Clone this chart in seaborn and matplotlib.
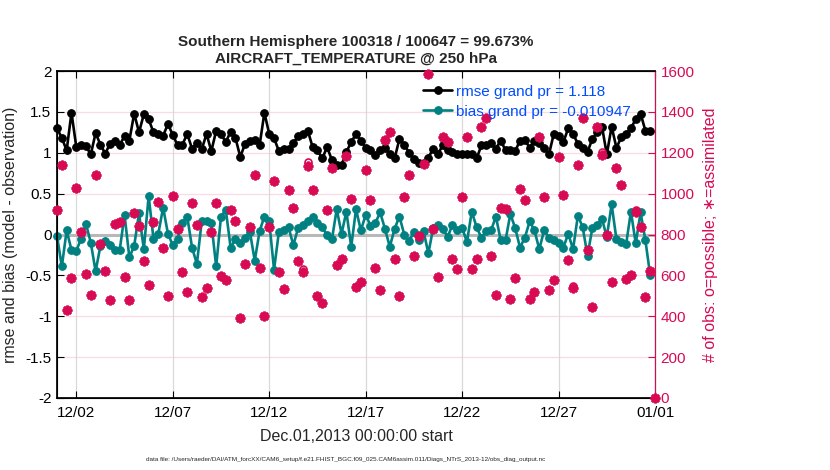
import numpy as np
import pandas as pd
import matplotlib
matplotlib.use("Agg")
import matplotlib.pyplot as plt
import seaborn as sns

sns.set_theme(style="white")
plt.rcParams['font.family'] = ['Liberation Sans', 'DejaVu Sans']

# ---------------- data ----------------
title_text = "Southern Hemisphere 100318 / 100647 = 99.673%\nAIRCRAFT_TEMPERATURE @ 250 hPa"
start_time = "2013-12-01"
end_time = "2014-01-01"

rmse = [1.30, 1.18, 1.03, 1.49, 1.07, 1.09, 1.08, 0.98, 1.24, 1.10,
        0.99, 1.11, 1.15, 1.10, 1.20, 1.15, 1.48, 1.25, 1.47, 1.41,
        1.25, 1.23, 1.21, 1.35, 1.22, 1.09, 1.10, 1.23, 1.05, 1.12,
        1.04, 1.23, 1.02, 1.27, 1.23, 1.13, 1.26, 1.18, 0.95, 1.11,
        1.14, 1.16, 1.09, 1.49, 1.23, 1.18, 1.02, 1.04, 1.04, 1.12,
        1.20, 1.23, 1.27, 1.07, 1.03, 0.93, 1.07, 0.91, 0.85, 0.85,
        1.01, 1.13, 1.23, 1.15, 1.06, 1.03, 0.97, 1.03, 1.06, 0.98,
        0.93, 1.17, 1.10, 1.00, 0.92, 0.87, 0.87, 0.94, 1.05, 0.99,
        1.09, 1.03, 1.01, 0.98, 0.98, 0.98, 0.98, 0.93, 1.09, 1.09,
        1.12, 1.05, 1.15, 1.03, 1.03, 1.02, 1.15, 1.16, 1.06, 1.15,
        1.12, 1.06, 0.98, 1.23, 1.20, 1.13, 1.30, 1.23, 1.11, 1.06,
        1.01, 1.17, 1.25, 1.32, 0.98, 1.32, 1.06, 1.19, 1.23, 1.30,
        1.41, 1.48, 1.27, 1.27]

bias = [-0.02, -0.39, 0.05, -0.19, -0.20, -0.05, 0.13, -0.10, -0.45, -0.14,
        -0.08, -0.13, -0.19, -0.19, 0.24, -0.28, -0.14, 0.26, -0.18, 0.47,
        -0.05, 0.01, 0.33, 0.01, -0.13, -0.05, 0.14, 0.22, -0.16, -0.36,
        0.16, 0.16, 0.14, -0.39, 0.22, 0.30, -0.16, -0.06, -0.11, -0.04,
        0.03, -0.32, 0.04, 0.22, 0.16, -0.43, 0.03, 0.05, 0.09, -0.13,
        0.08, 0.12, 0.16, 0.22, 0.14, 0.09, -0.01, -0.06, 0.31, 0.01,
        0.28, -0.15, 0.31, 0.05, 0.24, 0.11, 0.14, 0.27, 0.07, -0.15,
        0.07, 0.22, 0.00, -0.08, 0.03, -0.07, 0.04, -0.23, 0.08, 0.12,
        0.07, -0.03, 0.12, 0.06, 0.08, -0.09, 0.28, 0.09, -0.04, 0.04,
        0.05, 0.22, -0.07, -0.07, 0.25, 0.08, -0.16, -0.04, 0.16, 0.05,
        -0.18, 0.05, -0.04, -0.07, -0.11, -0.16, 0.01, -0.18, 0.23, 0.09,
        -0.26, 0.08, 0.12, 0.19, -0.03, 0.37, -0.06, -0.09, -0.12, 0.28,
        -0.11, 0.27, -0.07, -0.50]

n_assimilated = [920, 1140, 432, 587, 1026, 812, 605, 503, 1089, 753,
                 621, 479, 851, 860, 590, 479, 905, 842, 668, 553,
                 862, 959, 734, 499, 990, 828, 615, 517, 954, 845,
                 493, 538, 811, 956, 598, 578, 921, 866, 389, 658,
                 835, 1092, 637, 401, 836, 1064, 618, 532, 1018, 928,
                 672, 617, 1133, 1018, 499, 463, 920, 1125, 651, 680,
                 1185, 975, 545, 567, 1116, 969, 636, 527, 1263, 1304,
                 680, 501, 985, 1089, 696, 791, 1144, 1587, 829, 592,
                 1275, 1252, 681, 631, 982, 1276, 633, 682, 1325, 1372,
                 696, 502, 931, 925, 482, 588, 1025, 969, 485, 518,
                 1278, 985, 527, 578, 1179, 995, 674, 536, 1141, 1370,
                 726, 445, 1325, 1188, 798, 567, 1123, 1043, 584, 603,
                 911, 835, 494, 622, 0]

n_possible = [920, 1140, 432, 587, 1026, 812, 605, 503, 1089, 753,
              621, 479, 851, 860, 590, 479, 905, 842, 668, 553,
              862, 959, 734, 499, 990, 828, 615, 517, 954, 845,
              493, 538, 811, 956, 598, 578, 921, 866, 389, 658,
              835, 1092, 637, 401, 836, 1064, 618, 532, 1018, 928,
              672, 630, 1154, 1018, 499, 463, 920, 1125, 651, 680,
              1185, 975, 545, 567, 1116, 969, 636, 527, 1263, 1304,
              680, 501, 985, 1089, 696, 791, 1144, 1587, 829, 592,
              1275, 1252, 681, 631, 982, 1276, 633, 682, 1325, 1372,
              696, 502, 931, 925, 482, 588, 1025, 969, 485, 518,
              1278, 985, 527, 578, 1179, 995, 674, 548, 1141, 1370,
              726, 445, 1325, 1203, 798, 567, 1123, 1043, 584, 603,
              921, 835, 494, 622, 0]

xtick_dates = ["2013-12-02", "2013-12-07", "2013-12-12", "2013-12-17",
               "2013-12-22", "2013-12-27", "2014-01-01"]
xtick_labels = ["12/02", "12/07", "12/12", "12/17", "12/22", "12/27", "01/01"]
ytick_values = [-2, -1.5, -1, -0.5, 0, 0.5, 1, 1.5, 2]
ytick_labels = ["-2", "-1.5", "-1", "-0.5", "0", "0.5", "1", "1.5", "2"]
ytick2_values = [0, 200, 400, 600, 800, 1000, 1200, 1400, 1600]

legend_labels = ["rmse grand pr = 1.118", "bias grand pr = -0.010947"]
xlabel_text = "Dec.01,2013 00:00:00 start"
ylabel_text = "rmse and bias (model - observation)"
ylabel2_text = "# of obs: o=possible; \u2217=assimilated"
footer_text = ("data file: /Users/raeder/DAI/ATM_forcXX/CAM6_setup/"
               "f.e21.FHIST_BGC.f09_025.CAM6assim.011/Diags_NTrS_2013-12/obs_diag_output.nc")

# ---------------- styling ----------------
CRIMSON = (215/255, 10/255, 83/255)
TEAL = (0.0, 0.5, 0.5)
BLUE = (0.0, 0.3, 1.0)

times = pd.date_range(start_time, periods=len(rmse), freq="6h")
count_times = pd.date_range(start_time, periods=len(n_possible), freq="6h")

fig = plt.figure(figsize=(8.3, 4.7), dpi=100)
ax = fig.add_axes([0.0687, 0.1532, 0.7205, 0.6957])

# grids
for yv in ytick_values:
    ax.axhline(yv, color=CRIMSON, alpha=0.15, lw=0.9, zorder=0.5)
for xd in xtick_dates:
    ax.axvline(pd.Timestamp(xd), color="0.85", lw=0.9, zorder=0.5)
ax.axhline(0, color="0.72", lw=2.2, zorder=1.5)

sns.lineplot(x=times, y=rmse, ax=ax, color="black", marker="o", markersize=5.5,
             markeredgecolor="black", linewidth=1.9, clip_on=False, zorder=3)
sns.lineplot(x=times, y=bias, ax=ax, color=TEAL, marker="o", markersize=5.5,
             markeredgecolor=TEAL, linewidth=1.9, clip_on=False, zorder=3)
handles = [ln for ln in ax.get_lines() if ln.get_marker() == "o"][:2]

ax.set_xlim(pd.Timestamp(start_time), pd.Timestamp(end_time))
ax.set_ylim(-2, 2)
ax.set_xticks(pd.to_datetime(xtick_dates))
ax.set_xticklabels(xtick_labels)
ax.set_yticks(ytick_values)
ax.set_yticklabels(ytick_labels)
ax.tick_params(axis="both", direction="in", length=5, width=0.8, labelsize=11,
               colors="black", top=True, bottom=True, left=True, right=False,
               pad=4)
ax.tick_params(axis="x", pad=6)
ax.set_xlabel(xlabel_text, fontsize=11.5, labelpad=6)
ax.set_ylabel(ylabel_text, fontsize=11.5)
ax.yaxis.set_label_coords(-0.066, 0.5)
ax.set_title(title_text, fontsize=11, fontweight="bold", pad=6, linespacing=1.25)
for sp in ax.spines.values():
    sp.set_color("black")
    sp.set_linewidth(0.8)

ax2 = ax.twinx()
sns.lineplot(x=count_times, y=n_possible, ax=ax2, linestyle="", marker="o",
             markersize=5, markerfacecolor="none", markeredgecolor=CRIMSON,
             markeredgewidth=1.2, clip_on=False, zorder=4)
sns.lineplot(x=count_times, y=n_assimilated, ax=ax2, linestyle="", marker=(8, 2, 0),
             markersize=7, markerfacecolor=CRIMSON, markeredgecolor=CRIMSON,
             markeredgewidth=1.9, clip_on=False, zorder=4)
ax2.set_ylim(0, 1600)
ax2.set_xlim(pd.Timestamp(start_time), pd.Timestamp(end_time))
ax2.set_yticks(ytick2_values)
ax2.set_yticklabels([str(v) for v in ytick2_values])
ax2.tick_params(axis="y", direction="in", length=5, width=0.8, labelsize=11,
                colors=CRIMSON, right=True, left=False, pad=4)
ax2.set_ylabel(ylabel2_text, fontsize=11.5, color=CRIMSON, rotation=90, labelpad=6)
ax2.spines["right"].set_color(CRIMSON)
ax2.spines["right"].set_linewidth(0.8)
ax2.spines["left"].set_color("black")
ax2.spines["top"].set_color("black")
ax2.spines["bottom"].set_color("black")
ax2.grid(False)

leg = ax2.legend(handles, legend_labels, loc="upper left",
                 bbox_to_anchor=(0.612, 0.958), frameon=False, fontsize=11,
                 labelcolor=BLUE, handlelength=1.9, handletextpad=0.25,
                 labelspacing=0.38, borderpad=0, borderaxespad=0)

fig.text(0.416, 0.022, footer_text, fontsize=4.6, ha="center", va="center")

fig.savefig("out.png", dpi=100)
